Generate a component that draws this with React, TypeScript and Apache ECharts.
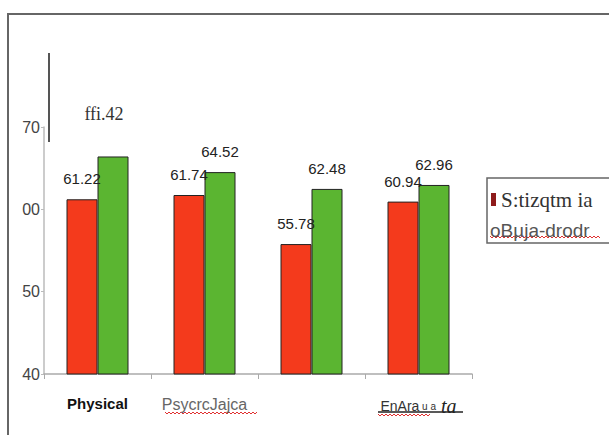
import React, { useEffect, useRef } from "react";
import * as echarts from "echarts";

const categories = ["Physical", "PsycrcJajca", "", "EnAra u a ta"];
const seriesNames = ["S:tizqtm ia", "oBµja-drodr"];
const redValues = [61.22, 61.74, 55.78, 60.94];
const greenValues = [66.42, 64.52, 62.48, 62.96];
const redLabels = ["61.22", "61.74", "55.78", "60.94"];
const greenLabels = ["ffi.42", "64.52", "62.48", "62.96"];
const yTickValues = [40, 50, 60, 70];
const yTickLabels = ["40", "50", "00", "70"];

function wavy(x0: number, x1: number, y: number): number[][] {
  const pts: number[][] = [];
  let up = true;
  for (let x = x0; x <= x1; x += 2) {
    pts.push([x, up ? y - 1 : y + 1]);
    up = !up;
  }
  return pts;
}

export default function App() {
  const ref = useRef<HTMLDivElement>(null);
  useEffect(() => {
    if (!ref.current) return;
    const chart = echarts.init(ref.current, null, { renderer: "svg" });
    const sans = "Liberation Sans, Arial, sans-serif";
    const serif = "Liberation Serif, Times New Roman, serif";
    const option: any = {
      animation: false,
      backgroundColor: "#ffffff",
      grid: { left: 44, right: 137, top: 127, bottom: 61 },
      xAxis: {
        type: "category",
        data: categories,
        axisLine: { lineStyle: { color: "#aaaaaa", width: 1.5 } },
        axisTick: { show: true, length: 5, lineStyle: { color: "#aaaaaa" } },
        axisLabel: {
          interval: 0,
          hideOverlap: false,
          margin: 22,
          formatter: (val: string, idx: number) => {
            if (idx === 0) return `{p|${val}}`;
            if (idx === 1) return `{g|${val}}`;
            if (idx === 3) {
              const parts = val.split(" ");
              return `{a|${parts[0]}}{s| ${parts.slice(1, 3).join(" ")}}{b| ${parts[3]}}`;
            }
            return val;
          },
          rich: {
            p: { fontFamily: "Liberation Sans Narrow, " + sans, fontSize: 15, fontWeight: "bold", color: "#111" },
            g: { fontFamily: sans, fontSize: 16, color: "#666" },
            a: { fontFamily: sans, fontSize: 14, color: "#333" },
            s: { fontFamily: sans, fontSize: 10, color: "#333" },
            b: { fontFamily: serif, fontSize: 20, fontStyle: "italic", color: "#222" },
          },
        },
      },
      yAxis: {
        type: "value",
        min: 40,
        max: 70,
        interval: 10,
        axisLine: { show: true, lineStyle: { color: "#bbbbbb", width: 1.5 } },
        axisTick: { show: true, length: 3, lineStyle: { color: "#bbbbbb" } },
        splitLine: { show: false },
        axisLabel: {
          margin: 4,
          fontFamily: sans,
          fontSize: 16,
          color: "#444",
          formatter: (v: number) => {
            const i = yTickValues.indexOf(v);
            return i >= 0 ? yTickLabels[i] : "";
          },
        },
      },
      legend: [
        {
          data: [{ name: seriesNames[0], icon: "rect" }],
          left: 486,
          top: 184,
          itemWidth: 5,
          itemHeight: 13,
          itemGap: 0,
          itemStyle: { color: "#8e1b1b", borderWidth: 0 },
          textStyle: { fontFamily: serif, fontSize: 21, color: "#333" },
        },
        {
          data: [{ name: seriesNames[1], icon: "none" }],
          left: 480,
          top: 216,
          itemWidth: 0,
          itemHeight: 13,
          itemGap: 0,
          textStyle: { fontFamily: sans, fontSize: 19, color: "#555" },
        },
      ],
      series: [
        {
          name: seriesNames[0],
          type: "bar",
          data: redValues,
          barWidth: 31,
          barGap: "0%",
          itemStyle: { color: "#f43a1c", borderColor: "#222", borderWidth: 1 },
          label: {
            show: true,
            position: "top",
            distance: 13,
            fontFamily: sans,
            fontSize: 15,
            color: "#222",
            formatter: (p: any) => redLabels[p.dataIndex],
          },
        },
        {
          name: seriesNames[1],
          type: "bar",
          data: greenValues.map((v, i) =>
            i === 0
              ? { value: v, label: { offset: [-9, -20], fontFamily: serif, fontSize: 18, color: "#333" } }
              : v
          ),
          barWidth: 31,
          barGap: "0%",
          itemStyle: { color: "#5bb531", borderColor: "#222", borderWidth: 1 },
          label: {
            show: true,
            position: "top",
            distance: 13,
            fontFamily: sans,
            fontSize: 15,
            color: "#222",
            formatter: (p: any) => greenLabels[p.dataIndex],
          },
        },
      ],
      graphic: [
        {
          type: "rect",
          shape: { x: 8, y: 14, width: 700, height: 500 },
          style: { fill: "none", stroke: "#666", lineWidth: 2 },
          silent: true,
        },
        {
          type: "line",
          shape: { x1: 49, y1: 53, x2: 49, y2: 142 },
          style: { stroke: "#555", lineWidth: 2 },
          silent: true,
        },
        {
          type: "rect",
          shape: { x: 487, y: 178, width: 200, height: 65 },
          style: { fill: "none", stroke: "#666", lineWidth: 1.5 },
          silent: true,
        },
        {
          type: "polyline",
          shape: { points: wavy(165, 257, 413) },
          style: { stroke: "#e03030", lineWidth: 1, fill: "none" },
          silent: true,
        },
        {
          type: "line",
          shape: { x1: 378, y1: 412, x2: 463, y2: 412 },
          style: { stroke: "#222", lineWidth: 1.5 },
          silent: true,
        },
        {
          type: "polyline",
          shape: { points: wavy(378, 430, 415) },
          style: { stroke: "#e03030", lineWidth: 1, fill: "none" },
          silent: true,
        },
        {
          type: "polyline",
          shape: { points: wavy(490, 600, 237) },
          style: { stroke: "#e03030", lineWidth: 1, fill: "none" },
          silent: true,
        },
      ],
    };
    chart.setOption(option);
    return () => chart.dispose();
  }, []);
  return (
    <div
      ref={ref}
      style={{ position: "fixed", left: 0, top: 0, width: 609, height: 435 }}
    />
  );
}
